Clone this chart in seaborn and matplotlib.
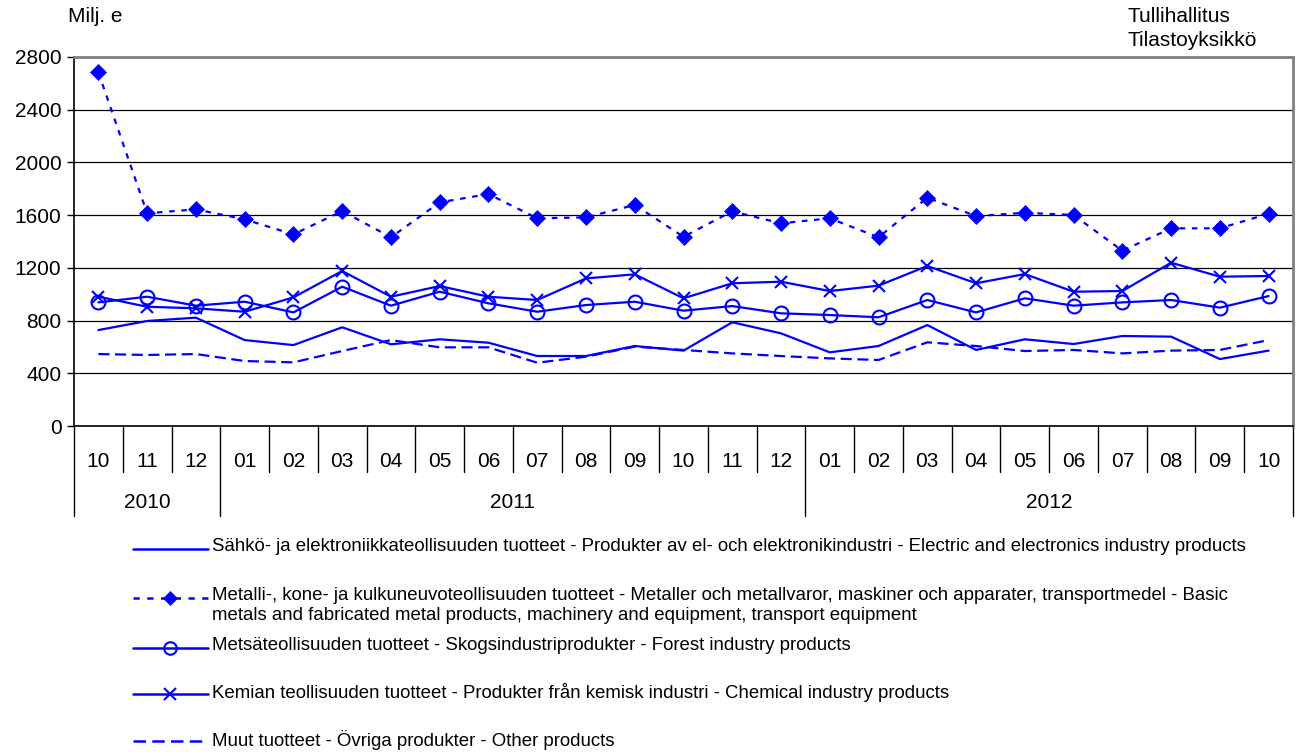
import numpy as np
import matplotlib
matplotlib.use("Agg")
import matplotlib.pyplot as plt
from matplotlib.lines import Line2D
import seaborn as sns

# months 10/2010 .. 10/2012
months = ["10", "11", "12", "01", "02", "03", "04", "05", "06", "07", "08", "09", "10", "11", "12",
          "01", "02", "03", "04", "05", "06", "07", "08", "09", "10"]
years = ["2010", "2011", "2012"]
year_counts = [3, 12, 10]

electric = [728, 797, 822, 652, 614, 749, 620, 658, 632, 531, 531, 607, 572, 787, 703,
            559, 607, 766, 577, 658, 622, 683, 678, 508, 572]
metal = [2683, 1614, 1644, 1568, 1454, 1631, 1432, 1697, 1760, 1576, 1583, 1677, 1436, 1629, 1538,
         1576, 1432, 1732, 1593, 1618, 1601, 1330, 1500, 1500, 1611]
forest = [938, 981, 913, 943, 862, 1057, 913, 1019, 931, 867, 918, 943, 875, 910, 855,
          842, 825, 956, 862, 969, 913, 938, 956, 898, 986]
chemical = [981, 905, 893, 867, 976, 1176, 981, 1062, 981, 956, 1120, 1151, 969, 1083, 1095,
            1024, 1065, 1214, 1083, 1153, 1019, 1024, 1239, 1133, 1138]
other = [546, 539, 546, 493, 483, 569, 652, 597, 597, 480, 526, 602, 577, 551, 531,
         513, 501, 635, 607, 569, 577, 551, 572, 577, 652]

labels = [
    "Sähkö- ja elektroniikkateollisuuden tuotteet - Produkter av el- och elektronikindustri - Electric and electronics industry products",
    "Metalli-, kone- ja kulkuneuvoteollisuuden tuotteet - Metaller och metallvaror, maskiner och apparater, transportmedel - Basic\nmetals and fabricated metal products, machinery and equipment, transport equipment",
    "Metsäteollisuuden tuotteet - Skogsindustriprodukter - Forest industry products",
    "Kemian teollisuuden tuotteet - Produkter från kemisk industri - Chemical industry products",
    "Muut tuotteet - Övriga produkter - Other products",
]

BLUE = "#0000FF"
styles = [
    dict(linestyle="-", marker=None),
    dict(linestyle=(0, (2.5, 3)), marker="D", markersize=8, mfc=BLUE, mec=BLUE, mew=0.5),
    dict(linestyle="-", marker="o", markersize=10, mfc="none", mec=BLUE, mew=1.5),
    dict(linestyle="-", marker="x", markersize=9, mfc="none", mec=BLUE, mew=1.5),
    dict(linestyle=(0, (5, 2.5)), marker=None),
]

sns.set_theme(style="white")
plt.rcParams['font.family'] = ['Liberation Sans', 'DejaVu Sans']
plt.rcParams['text.color'] = 'black'
plt.rcParams['xtick.color'] = 'black'
plt.rcParams['ytick.color'] = 'black'

W, H = 1299, 756
fig = plt.figure(figsize=(W / 100, H / 100), dpi=100)
ax = fig.add_axes([74 / W, 330 / H, 1219 / W, 369 / H])

x = np.arange(len(months))
for vals, st in zip([electric, metal, forest, chemical, other], styles):
    sns.lineplot(x=x, y=vals, ax=ax, color=BLUE, lw=1.6, **st)

ax.set_xlim(-0.5, len(months) - 0.5)
ax.set_ylim(0, 2800)
ax.set_yticks(range(0, 2801, 400))
ax.tick_params(axis="y", labelsize=15, length=5, width=1, color="black", pad=4, left=True)
ax.set_xticks(x, months)
ax.tick_params(axis="x", labelsize=15, length=0, pad=19)
ax.yaxis.grid(True, color="black", lw=0.9)
ax.set_axisbelow(True)
ax.set_xlabel("")
ax.set_ylabel("")

for side in ["left", "bottom"]:
    ax.spines[side].set_color("black")
    ax.spines[side].set_linewidth(1.2)
for side in ["top", "right"]:
    ax.spines[side].set_color("#808080")
    ax.spines[side].set_linewidth(2)

# category table below the axis
trans = ax.get_xaxis_transform()
month_depth = -46 / 369
year_depth = -90 / 369
bounds = np.cumsum([0] + year_counts) - 0.5
for b in np.arange(0.5, len(months) - 1, 1):
    if b in bounds:
        continue
    ax.plot([b, b], [0, month_depth], transform=trans, color="black", lw=1, clip_on=False)
for b in bounds:
    ax.plot([b, b], [0, year_depth], transform=trans, color="black", lw=1, clip_on=False)
for yr, lo, hi in zip(years, bounds[:-1], bounds[1:]):
    ax.text((lo + hi) / 2, -76 / 369, yr, transform=trans, ha="center", va="center", fontsize=15)

fig.text(68 / W, 1 - 17 / H, "Milj. e", fontsize=15, va="center")
fig.text(1128 / W, 1 - 17 / H, "Tullihallitus", fontsize=15, va="center")
fig.text(1128 / W, 1 - 40 / H, "Tilastoyksikkö", fontsize=15, va="center")

# legend below the chart
leg_y = [549, 598, 648, 694, 741]
for yy, st, lab in zip(leg_y, styles, labels):
    yf = 1 - yy / H
    fig.add_artist(Line2D([133 / W, 208 / W], [yf, yf], transform=fig.transFigure,
                          color=BLUE, lw=1.8, linestyle=st["linestyle"]))
    if st["marker"]:
        fig.add_artist(Line2D([170 / W], [yf], transform=fig.transFigure, color=BLUE, lw=0,
                              marker=st["marker"], markersize=st["markersize"] * 0.9,
                              mfc=st["mfc"], mec=st["mec"], mew=st["mew"]))
    fig.text(212 / W, yf + 11 / H, lab, fontsize=13.4, va="top", linespacing=1.2)

fig.savefig("out.png", dpi=100)
